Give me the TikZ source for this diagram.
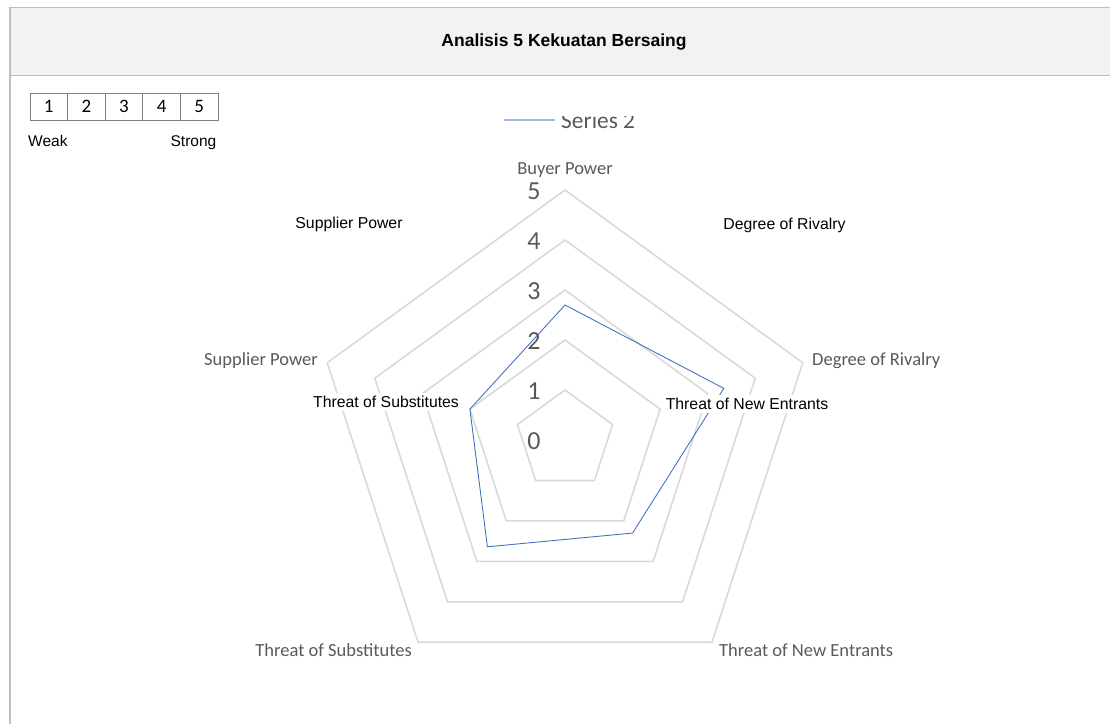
\documentclass[tikz,border=0pt]{standalone}
\usepackage{fontspec}
\setmainfont{Liberation Sans}
\newfontfamily\calibri{Carlito}

\definecolor{ringgray}{HTML}{D9D9D9}
\definecolor{framegray}{HTML}{BFBFBF}
\definecolor{headfill}{HTML}{F2F2F2}
\definecolor{labelgray}{HTML}{595959}
\definecolor{cellgray}{HTML}{808080}
\definecolor{seriesblue}{HTML}{4472C4}
\definecolor{legendblue}{HTML}{A2B9DF}

\tikzset{
  ring/.style={draw=ringgray, line width=1.6pt},
  series/.style={draw=seriesblue, line width=0.9pt},
  catlabel/.style={text=labelgray, inner sep=0pt, font=\calibri\fontsize{18.5}{20}\selectfont},
  ticklabel/.style={text=labelgray, inner sep=0pt, font=\calibri\fontsize{26}{28}\selectfont},
  factor/.style={fill=white, inner sep=3pt, font=\fontsize{15.8}{18}\selectfont},
  cell/.style={draw=cellgray, line width=1pt, minimum width=37.6pt, minimum height=27pt,
    inner sep=0pt, font=\calibri\fontsize{19}{21}\selectfont},
}

\begin{document}
\begin{tikzpicture}[x=1pt, y=-1pt]
    \useasboundingbox (0,0) rectangle (1110,724);

    % header band
    \fill[headfill] (10,7.5) rectangle (1110,75.5);
    \draw[framegray, line width=1.2pt] (1110,7.5) -- (10,7.5) -- (10,724);
    \draw[framegray, line width=1.2pt] (10,75.5) -- (1110,75.5);
    \node[font=\bfseries\fontsize{17.5}{19}\selectfont] (title) at (564,42) {Analisis 5 Kekuatan Bersaing};

    % scale
    \foreach \i in {1,...,5}
      \node[cell] (cell\i) at ({30+37.6*(\i-0.5)},106.5) {\i};
    \node[anchor=base west, inner sep=0pt, font=\fontsize{15.5}{17}\selectfont] (weak) at (28,146.5) {Weak};
    \node[anchor=base east, inner sep=0pt, font=\fontsize{15.5}{17}\selectfont] (strong) at (216.5,146.5) {Strong};

    % legend
    \coordinate (legA) at (504,120);
    \coordinate (legB) at (555,120);
    \draw[legendblue, line width=2.4pt] (legA) -- (legB);
    \begin{scope}
      \clip (480,116.5) rectangle (700,140);
      \node[anchor=base west, inner sep=0pt, text=labelgray, font=\calibri\fontsize{23.4}{25}\selectfont] (legend) at (561,128.3) {Series 2};
    \end{scope}

    % radar
    \begin{scope}[shift={(565,440)}, x=50pt, y=50pt]
      \foreach \r in {1,...,5}
        \draw[ring] (90:\r) -- (18:\r) -- (-54:\r) -- (-126:\r) -- (162:\r) -- cycle;
      \draw[series] (90:2.7) -- (18:3.34) -- (-54:2.3) -- (-126:2.64) -- (162:2.0) -- cycle;
    \end{scope}

    \foreach \v in {0,...,5}
      \node[ticklabel] (tick\v) at (534,{441-50*\v}) {\v};

    \node[catlabel] (buyer) at (565,170) {Buyer Power};
    \node[catlabel, anchor=west] (rivalry) at (812,361) {Degree of Rivalry};
    \node[catlabel, anchor=west] (entrants) at (719,650) {Threat of New Entrants};
    \node[catlabel, anchor=east] (substitutes) at (412,650) {Threat of Substitutes};
    \node[catlabel, anchor=east] (supplier) at (318,361) {Supplier Power};

    \node[factor] (supplierF) at (349,224) {Supplier Power};
    \node[factor] (rivalryF) at (784.5,225) {Degree of Rivalry};
    \node[factor] (substitutesF) at (386,402) {Threat of Substitutes};
    \node[factor] (entrantsF) at (747,404) {Threat of New Entrants};
  \end{tikzpicture}
\end{document}
